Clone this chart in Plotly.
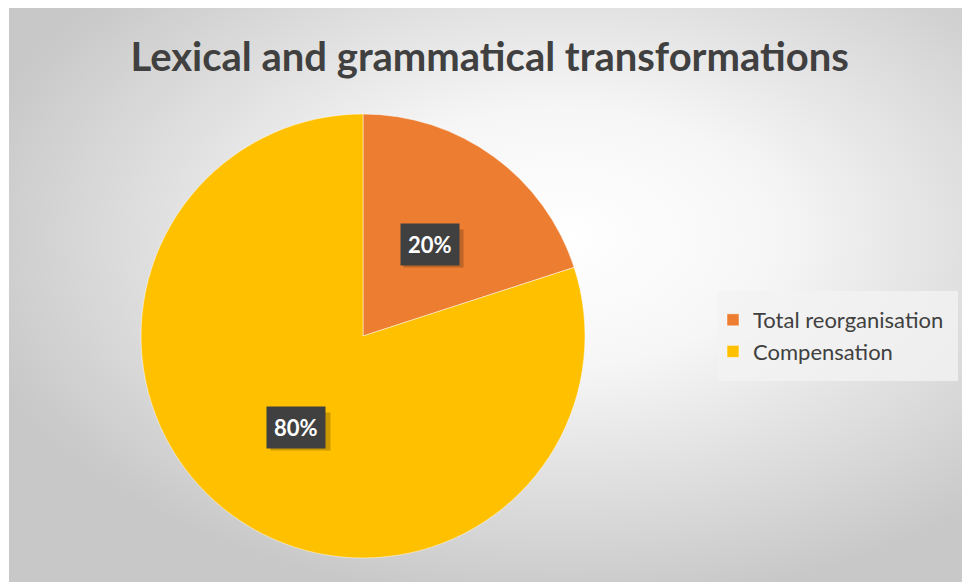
import base64
import math
import plotly.graph_objects as go

# ---- data ----
categories = ["Total reorganisation", "Compensation"]
values = [20, 80]
colors = ["#ED7D31", "#FFC000"]
title_text = "Lexical and grammatical transformations"

W, H = 962, 582
FONT = "Lato"

# background gradient (chart area) as svg image
svg = f"""<svg xmlns='http://www.w3.org/2000/svg' width='953' height='574' viewBox='0 0 953 574'>
<defs><radialGradient id='g' cx='0.58' cy='0.40' r='0.64'>
<stop offset='0' stop-color='#ffffff'/><stop offset='0.35' stop-color='#f6f6f6'/>
<stop offset='1' stop-color='#c8c8c8'/></radialGradient></defs>
<rect x='0' y='0' width='953' height='574' fill='url(#g)'/></svg>"""
src = "data:image/svg+xml;base64," + base64.b64encode(svg.encode()).decode()

# pie geometry (pixels)
cx, cy, r = 363, 336, 222
dom_x = [(cx - r) / W, (cx + r) / W]
dom_y = [1 - (cy + r) / H, 1 - (cy - r) / H]

fig = go.Figure()
fig.add_trace(go.Pie(
    labels=categories, values=values, sort=False, direction="clockwise", rotation=0,
    marker=dict(colors=colors, line=dict(color="rgba(255,255,255,0.6)", width=0.8)),
    textinfo="none", hoverinfo="label+percent",
    domain=dict(x=dom_x, y=dom_y),
))

annotations = []
shapes = []
total = sum(values)
cum = 0
bw, bh = 60, 38
for v in values:
    mid = (cum + v / 2) / total * 2 * math.pi
    cum += v
    px = cx + 0.51 * r * math.sin(mid)
    py = cy - 0.51 * r * math.cos(mid)
    txt = f"{round(v / total * 100)}%"
    # soft shadow behind label box
    shapes.append(dict(
        type="rect", xref="paper", yref="paper", layer="above",
        x0=(px - bw / 2 + 4) / W, x1=(px + bw / 2 + 4) / W,
        y0=1 - (py + bh / 2 + 4) / H, y1=1 - (py - bh / 2 + 4) / H,
        fillcolor="rgba(0,0,0,0.2)", line=dict(width=0),
    ))
    annotations.append(dict(
        x=px / W, y=1 - py / H, xref="paper", yref="paper", text=txt, showarrow=False,
        xanchor="center", yanchor="middle",
        bgcolor="#404040", borderpad=7,
        font=dict(family=FONT, size=22, color="#ffffff", weight="bold"),
    ))

# legend background box
shapes.append(dict(
    type="rect", xref="paper", yref="paper", layer="above",
    x0=718 / W, x1=958 / W, y0=1 - 381 / H, y1=1 - 291 / H,
    fillcolor="rgba(242,242,242,0.8)", line=dict(width=0),
))

fig.update_layout(
    width=W, height=H, margin=dict(l=0, r=0, t=0, b=0),
    paper_bgcolor="#ffffff", plot_bgcolor="rgba(0,0,0,0)",
    title=dict(text=title_text, x=0.509, xanchor="center", y=1 - 57 / H, yanchor="middle",
               font=dict(family=FONT, size=40, color="#404040", weight="bold")),
    images=[dict(source=src, xref="paper", yref="paper", x=9 / W, y=1 - 8 / H,
                 sizex=953 / W, sizey=574 / H, sizing="stretch", layer="below",
                 xanchor="left", yanchor="top")],
    legend=dict(x=713 / W, y=1 - 336 / H, xanchor="left", yanchor="middle",
                bgcolor="rgba(0,0,0,0)", font=dict(family=FONT, size=22, color="#404040"),
                itemwidth=30),
    shapes=shapes,
    annotations=annotations,
)

fig.write_html("out.html")
